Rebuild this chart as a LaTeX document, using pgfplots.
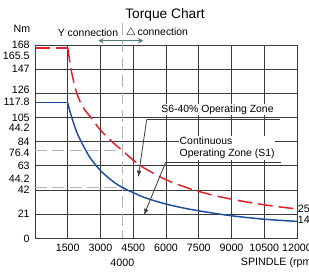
\documentclass[border=0pt]{standalone}
\usepackage{pgfplots}
\pgfplotsset{compat=1.18}
\usepackage{fontspec}
\setmainfont{Liberation Sans}
\definecolor{redc}{HTML}{E41E26}
\definecolor{bluec}{HTML}{1F4E9E}
\definecolor{gridc}{HTML}{3A3A3A}
\definecolor{dashg}{HTML}{B4B4B4}
\definecolor{arrc}{HTML}{4F7B7B}
\begin{document}
\begin{tikzpicture}
\begin{axis}[
 width=196.5pt, height=145pt, scale only axis,
 xmin=0, xmax=12000, ymin=0, ymax=168,
 xtick={1500,3000,4500,6000,7500,9000,10500,12000},
 xticklabels={1500,3000,4500,6000,7500,9000,10500,12000},
 ytick={0,21,42,63,84,105,126,147,168},
 yticklabels={0,21,42,63,84,105,,147,168},
 extra y ticks={158.2,129.3,118.6,96,74,51.4},
 extra y tick labels={165.5,126,117.8,44.2,76.4,44.2},
 extra y tick style={grid=none, major tick length=0pt},
 ymajorgrids, xmajorgrids,
 grid style={gridc, line width=0.7pt},
 axis line style={gridc, line width=0.7pt},
 major tick length=0pt,
 tick label style={font=\fontsize{8}{9}\selectfont},
 /pgf/number format/assume math mode=true,
 scaled x ticks=false,
 clip=false,
 xticklabel style={yshift=-1pt},
 yticklabel style={xshift=-0.5pt},
]
\coordinate (bl) at (rel axis cs:0,0);
\coordinate (tr) at (rel axis cs:1,1);
% reference dashed lines
\draw[dashg, line width=0.7pt, dash pattern=on 9pt off 4pt] (axis cs:4000,187) -- (axis cs:4000,0);
\draw[dashg, line width=0.7pt, dash pattern=on 9pt off 4pt] (axis cs:0,76.4) -- (axis cs:4000,76.4);
\draw[dashg, line width=0.7pt, dash pattern=on 9pt off 4pt] (axis cs:0,44.2) -- (axis cs:4000,44.2);
% S6-40%
\addplot[redc, line width=1.1pt, dash pattern=on 11pt off 4.5pt] coordinates {(0,165.5) (1500,165.5)};
\addplot[redc, line width=1.1pt, dash pattern=on 11pt off 4.5pt, smooth] coordinates {
(1500,165.5) (1650,147) (1800,134) (1913,126) (2064,119) (2300,111) (2523,106) (2982,94.4) (3592,82.8) (4000,76.4) (4500,67.9) (5000,61.1) (6000,50.9) (7000,43.7) (8000,38.2) (9000,34) (10000,30.6) (11000,27.8) (12000,25.5)};
% S1
\addplot[bluec, line width=1.1pt] coordinates {(0,117.8) (1500,117.8)};
\addplot[bluec, line width=1.1pt, smooth] coordinates {
(1500,117.8) (1600,110.4) (1800,98.2) (2000,88.4) (2500,70.7) (3000,58.9) (3500,50.5) (4000,44.2) (5000,35.6) (6000,29.8) (7000,25.6) (8000,22.4) (9000,19.6) (10500,16.6) (12000,14.7)};
% annotations
\draw[gridc, line width=0.6pt] (axis cs:11221,103.3) -- (axis cs:5116,103.3);
\draw[gridc, line width=0.6pt, -latex] (axis cs:5116,103.3) -- (axis cs:4731,53.5);
\node[fill=white, inner sep=0.6pt, font=\fontsize{7.8}{8}\selectfont] at (axis cs:8358,112.1) {S6-40\% Operating Zone};
\draw[gridc, line width=0.6pt] (axis cs:11253,66.1) -- (axis cs:5986,66.1);
\draw[gridc, line width=0.6pt, -latex] (axis cs:5986,66.1) -- (axis cs:4992,20.3);
\node[fill=white, inner sep=0.6pt, anchor=west, align=left, font=\fontsize{7.8}{9.2}\selectfont] at (axis cs:6580,78.4) {Continuous\\Operating Zone (S1)};
% header texts
\node[font=\fontsize{10.3}{11}\selectfont] at (axis cs:5954,193.7) {Torque Chart};
\node[font=\fontsize{8}{9}\selectfont] at (axis cs:-595,182) {Nm};
\node[font=\fontsize{7.8}{9}\selectfont] at (axis cs:2427,178.9) {Y connection};
\node[font=\fontsize{7.8}{9}\selectfont, anchor=west, inner sep=0pt] at (axis cs:4150,178.9) {$\triangle$\,connection};
\draw[arrc, line width=0.8pt, <->, >=stealth] (axis cs:2899,171.7) -- (axis cs:4960,171.7);
% bottom texts
\node[font=\fontsize{8}{9}\selectfont] at (axis cs:4000,-20.9) {4000};
\node[font=\fontsize{8}{9}\selectfont, anchor=west, inner sep=0pt] at (axis cs:9421,-20.9) {SPINDLE (rpm)};
\node[font=\fontsize{8}{9}\selectfont, anchor=west, inner sep=0.5pt] at (axis cs:12000,25.5) {25.5};
\node[font=\fontsize{8}{9}\selectfont, anchor=west, inner sep=0.5pt] at (axis cs:12000,16.0) {14.7};
\end{axis}
\pgfresetboundingbox
\path[use as bounding box] ([xshift=-26.25pt,yshift=-26pt]bl) rectangle ([xshift=9pt,yshift=33.75pt]tr);
\end{tikzpicture}
\end{document}
